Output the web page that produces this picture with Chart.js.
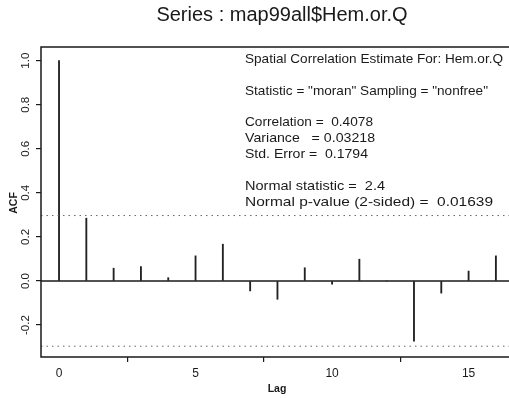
<!DOCTYPE html>
<html>
<head>
<meta charset="utf-8">
<script src="https://cdn.jsdelivr.net/npm/chart.js@4/dist/chart.umd.min.js"></script>
<style>
  body { margin: 0; background: #fff; }
  #acf-chart { display: block; }
</style>
</head>
<body>
<canvas id="acf-chart" width="509" height="398"></canvas>
<script>
(function() {
  'use strict';
  // ラグと自己相関
  const lags = [0, 1, 2, 3, 4, 5, 6, 7, 8, 9, 10, 11, 12, 13, 14, 15, 16];
  const acfValues = [1.0, 0.285, 0.058, 0.065, 0.015, 0.114, 0.167, -0.045, -0.083,
    0.06, -0.014, 0.099, 0.0, -0.273, -0.055, 0.045, 0.114];
  // 信頼限界
  const upperBound = 0.297;
  const lowerBound = -0.296;
  // 軸の範囲と目盛
  const xRange = [-0.66, 16.48];
  const yRange = [-0.345, 1.062];
  const xTicks = [0, 5, 10, 15];
  const yTicks = [-0.2, 0.0, 0.2, 0.4, 0.6, 0.8, 1.0];
  // テキスト
  const chartTitle = 'Series : map99all$Hem.or.Q';
  const infoLines = [
    'Spatial Correlation Estimate For: Hem.or.Q',
    '',
    'Statistic = "moran" Sampling = "nonfree"',
    '',
    'Correlation =  0.4078',
    'Variance   = 0.03218',
    'Std. Error =  0.1794',
    '',
    'Normal statistic =  2.4',
    'Normal p-value (2-sided) =  0.01639'
  ];
  // 各行の表示幅（px）
  const infoWidths = [258, 0, 243, 0, 128, 130, 123, 0, 140, 248];

  const ink = '#1a1a1a';
  const fontFamily = '"Liberation Sans", Arial, sans-serif';

  // 棒データ
  const barData = lags.map(function(lag, i) {
    return { x: lag, y: acfValues[i] };
  });
  function flatLine(value) {
    return [{ x: xRange[0], y: value }, { x: xRange[1], y: value }];
  }

  // 枠・回転ラベル・注記
  const decorPlugin = {
    id: 'decor',
    afterDraw: function(chart) {
      const ctx = chart.ctx;
      const area = chart.chartArea;
      const yScale = chart.scales.y;
      ctx.save();
      // 枠
      ctx.strokeStyle = ink;
      ctx.lineWidth = 1.5;
      ctx.beginPath();
      ctx.moveTo(area.right + 2, area.top);
      ctx.lineTo(area.left, area.top);
      ctx.lineTo(area.left, area.bottom);
      ctx.lineTo(area.right + 2, area.bottom);
      ctx.stroke();
      ctx.fillStyle = ink;
      ctx.textAlign = 'center';
      ctx.textBaseline = 'middle';
      // タイトル
      ctx.font = '20px ' + fontFamily;
      ctx.fillText(chartTitle, 282, 15);
      // y 目盛ラベル（回転）
      ctx.font = '11.5px ' + fontFamily;
      yTicks.forEach(function(v) {
        ctx.save();
        ctx.translate(26, yScale.getPixelForValue(v));
        ctx.rotate(-Math.PI / 2);
        ctx.fillText(v.toFixed(1), 0, 0);
        ctx.restore();
      });
      // 軸タイトル
      ctx.font = 'bold 10.5px ' + fontFamily;
      ctx.save();
      ctx.translate(14, 203);
      ctx.rotate(-Math.PI / 2);
      ctx.fillText('ACF', 0, 0);
      ctx.restore();
      ctx.fillText('Lag', 277, 389);
      // 注記
      ctx.font = '13.5px ' + fontFamily;
      ctx.textAlign = 'left';
      infoLines.forEach(function(line, i) {
        if (!line) {
          return;
        }
        const w = ctx.measureText(line).width;
        ctx.save();
        ctx.translate(245, 59 + i * 15.9);
        ctx.scale(infoWidths[i] / w, 1);
        ctx.fillText(line, 0, 0);
        ctx.restore();
      });
      ctx.restore();
    }
  };

  new Chart(document.getElementById('acf-chart').getContext('2d'), {
    type: 'bar',
    data: {
      datasets: [{
        type: 'line',
        data: flatLine(0),
        borderColor: ink,
        borderWidth: 1.3,
        pointRadius: 0
      }, {
        type: 'line',
        data: flatLine(upperBound),
        borderColor: '#666',
        borderWidth: 1,
        borderDash: [1.5, 4],
        pointRadius: 0
      }, {
        type: 'line',
        data: flatLine(lowerBound),
        borderColor: '#666',
        borderWidth: 1,
        borderDash: [1.5, 4],
        pointRadius: 0
      }, {
        data: barData,
        backgroundColor: '#222',
        borderWidth: 0,
        barThickness: 1.2
      }]
    },
    options: {
      responsive: false,
      animation: false,
      layout: { padding: { top: 47, right: 0 } },
      plugins: {
        legend: { display: false },
        tooltip: { enabled: false },
        title: { display: false }
      },
      scales: {
        x: {
          type: 'linear',
          offset: false,
          min: xRange[0],
          max: xRange[1],
          afterBuildTicks: function(scale) {
            scale.ticks = xTicks.map(function(v) { return { value: v }; });
          },
          afterFit: function(scale) { scale.height = 41; },
          border: { display: false },
          grid: { drawOnChartArea: false, drawTicks: true, tickLength: 5, color: ink, lineWidth: 1.2 },
          ticks: {
            color: ink,
            font: { family: fontFamily, size: 12 },
            padding: 4,
            maxRotation: 0
          }
        },
        y: {
          min: yRange[0],
          max: yRange[1],
          afterBuildTicks: function(scale) {
            scale.ticks = yTicks.map(function(v) { return { value: v }; });
          },
          afterFit: function(scale) { scale.width = 41; },
          border: { display: false },
          grid: { drawOnChartArea: false, drawTicks: true, tickLength: 5, color: ink, lineWidth: 1.2 },
          ticks: { display: false }
        }
      }
    },
    plugins: [decorPlugin]
  });
})();
</script>
</body>
</html>
